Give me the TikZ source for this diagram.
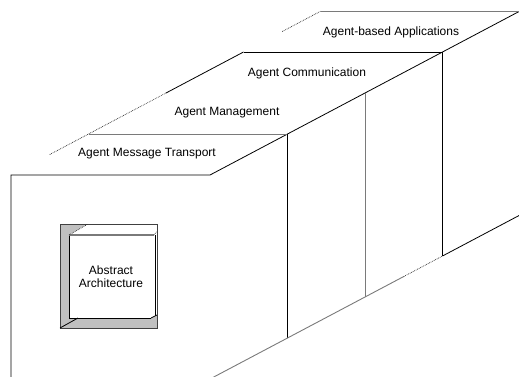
\documentclass[tikz,border=0pt]{standalone}
\usepackage{fontspec}
\setmainfont{Liberation Sans}
\usetikzlibrary{calc}
\definecolor{EdgeGray}{HTML}{7A7A7A}
\definecolor{ShadeGray}{HTML}{C0C0C0}

\begin{document}
\begin{tikzpicture}[x=1pt,y=-1pt,
  edge/.style={line width=0.8pt,black},
  soft/.style={line width=0.9pt,EdgeGray},
  faint/.style={line width=0.7pt,densely dotted,black!85},
  layer/.style={font=\fontsize{12}{13}\selectfont,inner sep=0pt,
                align=center}]
\useasboundingbox (0,0) rectangle (519,376);
\clip (0,0) rectangle (519,376);
% corners of the long block, one step per layer
\foreach \k in {0,...,4}{
  \coordinate (l\k) at ($(11,175)+\k*(77.5,-41)$);
  \coordinate (r\k) at ($(210,175)+\k*(77.5,-41)$);
  \coordinate (b\k) at ($(r\k)+(0,204)$);
}
\coordinate (f0) at (11,380);
% front face and top strips
\draw[edge] (f0) -- (l0) -- (r0) -- (r4);
\draw[soft] (l1) -- (r1);
\draw[edge] (l3) -- (r3);
\draw[soft] (l4) -- (r4);
\draw[faint] ($(l0)!0.5!(l1)$) -- (l2);
\draw[edge] (l2) -- (l3);
\draw[faint] ($(l3)!0.5!(l4)$) -- (l4);
% side face
\draw[edge] (r1) -- (b1);
\draw[soft] (r2) -- (b2);
\draw[edge] (r3) -- (b3);
\draw[soft] (b0) -- (b2) -- ($(b2)!0.5!(b3)$);
\draw[faint] ($(b2)!0.5!(b3)$) -- (b3);
\draw[edge] (b3) -- (b4);
% layer names
\node[layer] (mt) at (147,154) {Agent Message Transport};
\node[layer] (mg) at (227,113) {Agent Management};
\node[layer] (cm) at (307,73) {Agent Communication};
\node[layer] (ap) at (391,32) {Agent-based Applications};
% abstract architecture box
\fill[ShadeGray] (60,224) rectangle (157,328);
\fill[white] (69,318) -- (69,235) -- (88,224) -- (157,224) -- (157,315)
  -- (151,318) -- cycle;
\draw[line width=0.6pt,black!75] (60,224) rectangle (157,328);
\draw[edge] (69,235) -- (69,318) -- (151,318);
\draw[soft,line width=1.1pt] (69,235) -- (154,235);
\draw[line width=0.5pt] (155,235) -- (155,316);
\draw[faint] (69,235) -- (88,224);
\draw[faint] (154,235) -- (157,231);
\draw[edge] (60,328) -- (78,318);
\draw[edge] (151,318) -- (157,315);
\node[layer] (arch) at (111,277) {Abstract\\Architecture};
\end{tikzpicture}
\end{document}
